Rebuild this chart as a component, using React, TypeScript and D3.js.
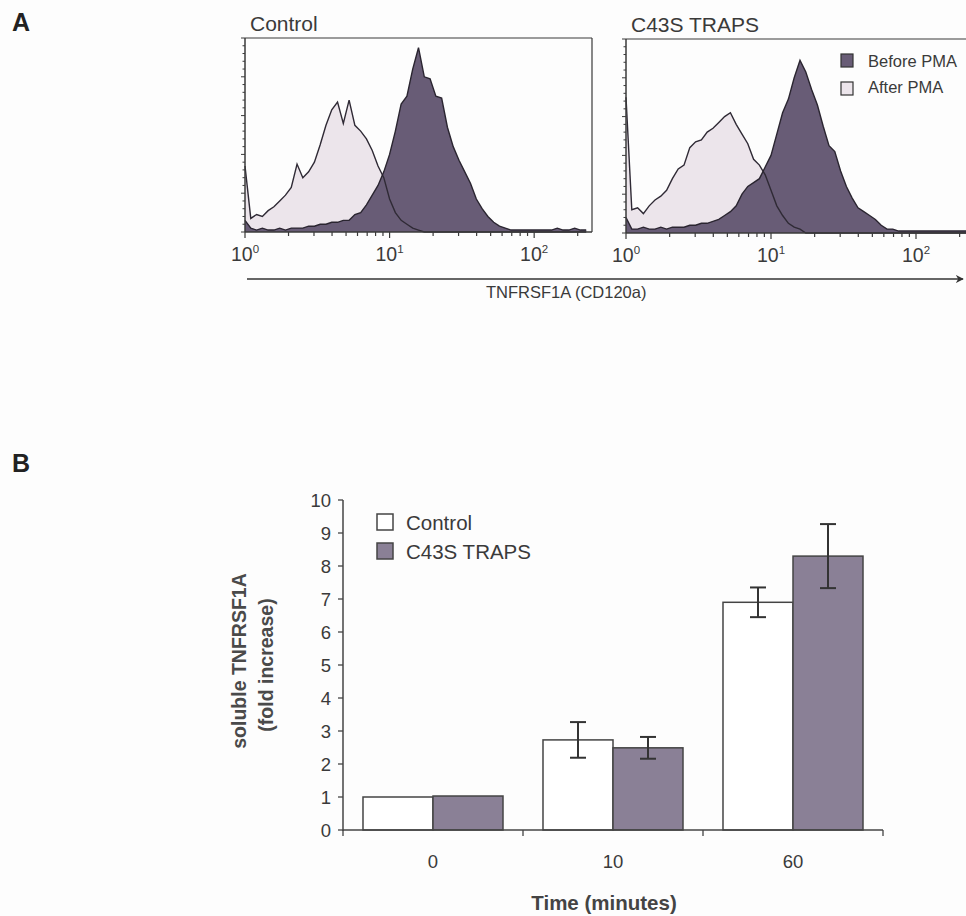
import React from 'react';
import * as d3 from 'd3';

// ---------- Panel A data (flow cytometry histograms, log-binned) ----------
const LOG_STEP = 0.04; // decades per bin
const LOG_MAX = 2.4;
const controlBefore = [6, 2, 1, 2, 1, 1, 2, 1, 2, 2, 2, 3, 3, 4, 4, 5, 5, 6, 6, 9, 10, 14, 19, 24, 31, 40, 52, 66, 70, 84, 95, 80, 79, 70, 69, 54, 44, 37, 31, 25, 17, 12, 8, 5, 3, 2, 1, 1, 1, 1, 1, 1, 1, 1, 2, 1, 1, 2, 1, 1];
const controlAfter = [34, 7, 9, 8, 11, 13, 16, 19, 23, 35, 28, 31, 36, 45, 55, 63, 67, 56, 68, 55, 52, 48, 42, 34, 28, 17, 10, 6, 4, 2, 1, 0, 0, 0, 0, 0, 0, 0, 0, 0, 0, 0, 0, 0, 0, 0, 0, 0, 0, 0, 0, 0, 0, 0, 0, 0, 0, 0, 0, 0];
const trapsBefore = [8, 2, 2, 3, 2, 2, 3, 2, 3, 3, 3, 4, 4, 5, 5, 6, 7, 9, 11, 14, 20, 24, 26, 28, 34, 40, 51, 62, 69, 80, 89, 83, 74, 66, 55, 45, 42, 32, 24, 18, 13, 11, 9, 7, 4, 2, 2, 1, 1, 1, 1, 1, 1, 1, 1, 1, 1, 1, 1, 1];
const trapsAfter = [70, 12, 13, 10, 14, 17, 19, 22, 28, 33, 35, 44, 47, 48, 52, 54, 57, 60, 62, 56, 51, 46, 38, 35, 30, 22, 14, 9, 5, 3, 2, 0, 0, 0, 0, 0, 0, 0, 0, 0, 0, 0, 0, 0, 0, 0, 0, 0, 0, 0, 0, 0, 0, 0, 0, 0, 0, 0, 0, 0];
const histTitles = ['Control', 'C43S TRAPS'];
const histLegend = ['Before PMA', 'After PMA'];
const decadeExponents = ['0', '1', '2'];
const histAxisTitle = 'TNFRSF1A (CD120a)';

// ---------- Panel B data (bar chart) ----------
const timeCategories = ['0', '10', '60'];
const barSeries = ['Control', 'C43S TRAPS'];
const controlMeans = [1.0, 2.73, 6.9];
const controlErrors = [0, 0.54, 0.45];
const trapsMeans = [1.03, 2.49, 8.3];
const trapsErrors = [0, 0.33, 0.97];
const yTicksB = [0, 1, 2, 3, 4, 5, 6, 7, 8, 9, 10];

const FONT = '"Liberation Sans", Arial, Helvetica, sans-serif';
const DARK = '#685c76';
const LIGHT = '#ece5eb';
const BAR = '#8a8096';
const INK = '#3a3a3a';

function Histogram({ x0, x1, top, bottom, before, after, title, showRight, legend }: any) {
  const x = d3.scaleLog().domain([1, Math.pow(10, LOG_MAX)]).range([x0, x1]);
  const y = d3.scaleLinear().domain([0, 100]).range([bottom, top]);
  const area = d3.area<number>()
    .x((_, i) => x(Math.pow(10, i * LOG_STEP)))
    .y0(y(0))
    .y1(d => y(d));
  const line = d3.line<number>()
    .x((_, i) => x(Math.pow(10, i * LOG_STEP)))
    .y(d => y(d));
  const minor = x.ticks();
  const yMinor = d3.range(0, 101, 4);
  return (
    <g>
      <text x={x0 + 5} y={top - 7} fontSize={21} fill={INK} fontFamily={FONT}>{title}</text>
      <path d={area(after) || ''} fill={LIGHT} />
      <path d={area(before) || ''} fill={DARK} />
      <path d={line(after) || ''} fill="none" stroke="#2f2a35" strokeWidth={1.4} />
      <path d={line(before) || ''} fill="none" stroke="#2a2530" strokeWidth={1.4} />
      {/* frame */}
      <line x1={x0} x2={x1} y1={top} y2={top} stroke={INK} strokeWidth={1.2} />
      <line x1={x0} x2={x0} y1={top} y2={bottom} stroke={INK} strokeWidth={1.5} />
      {showRight && <line x1={x1} x2={x1} y1={top} y2={bottom} stroke={INK} strokeWidth={1.2} />}
      <line x1={x0} x2={x1} y1={bottom} y2={bottom} stroke={INK} strokeWidth={1.5} />
      {yMinor.map(v => (
        <line key={'y' + v} x1={x0 - (v % 20 === 0 ? 4 : 2.5)} x2={x0} y1={y(v)} y2={y(v)} stroke={INK} strokeWidth={1} />
      ))}
      {minor.map((v, i) => {
        const major = Math.abs(Math.log10(v) - Math.round(Math.log10(v))) < 1e-9;
        return <line key={'x' + i} x1={x(v)} x2={x(v)} y1={bottom} y2={bottom + (major ? 6 : 4)} stroke={INK} strokeWidth={1.2} />;
      })}
      {decadeExponents.map(e => (
        <text key={'l' + e} x={x(Math.pow(10, +e))} y={bottom + 29} fontSize={19.5} fill={INK} fontFamily={FONT} textAnchor="middle">
          10<tspan fontSize={11.5} dy={-8}>{e}</tspan>
        </text>
      ))}
      {legend && (
        <g fontFamily={FONT} fontSize={16.5} fill={INK}>
          <rect x={841} y={54} width={12} height={13} fill={DARK} stroke="#333" strokeWidth={1.2} />
          <text x={868} y={67}>{histLegend[0]}</text>
          <rect x={841} y={82} width={12} height={13} fill={LIGHT} stroke="#333" strokeWidth={1.2} />
          <text x={868} y={93}>{histLegend[1]}</text>
        </g>
      )}
    </g>
  );
}

function BarChart() {
  const x0 = d3.scaleBand().domain(timeCategories).range([343, 883]).paddingInner(0).paddingOuter(0);
  const x1 = d3.scaleBand().domain(barSeries).range([0, x0.bandwidth()]).paddingInner(0).paddingOuter(0.2857);
  const y = d3.scaleLinear().domain([0, 10]).range([830, 500]);
  const series = [
    { name: barSeries[0], means: controlMeans, errs: controlErrors, fill: '#ffffff' },
    { name: barSeries[1], means: trapsMeans, errs: trapsErrors, fill: BAR },
  ];
  const catEdges = [...timeCategories.map(c => x0(c) as number), 883];
  return (
    <g fontFamily={FONT}>
      {series.map(s => timeCategories.map((c, i) => {
        const bx = (x0(c) as number) + (x1(s.name) as number);
        const bw = x1.bandwidth();
        return (
          <rect key={s.name + c} x={bx} y={y(s.means[i])} width={bw} height={y(0) - y(s.means[i])} fill={s.fill} stroke="#444" strokeWidth={1.5} />
        );
      }))}
      {series.map(s => timeCategories.map((c, i) => {
        if (!s.errs[i]) return null;
        const cx = (x0(c) as number) + (x1(s.name) as number) + x1.bandwidth() / 2;
        const hi = y(s.means[i] + s.errs[i]);
        const lo = y(s.means[i] - s.errs[i]);
        return (
          <g key={'e' + s.name + c} stroke="#333" strokeWidth={2}>
            <line x1={cx} x2={cx} y1={hi} y2={lo} />
            <line x1={cx - 8} x2={cx + 8} y1={hi} y2={hi} />
            <line x1={cx - 8} x2={cx + 8} y1={lo} y2={lo} />
          </g>
        );
      }))}
      {/* axes */}
      <line x1={343} x2={343} y1={500} y2={831} stroke="#444" strokeWidth={1.5} />
      <line x1={343} x2={883} y1={830} y2={830} stroke="#444" strokeWidth={1.5} />
      {yTicksB.map(t => (
        <g key={'t' + t}>
          <line x1={338} x2={343} y1={y(t)} y2={y(t)} stroke="#444" strokeWidth={1.3} />
          <text x={331} y={y(t)} dy="0.36em" textAnchor="end" fontSize={18.5} fill={INK}>{t}</text>
        </g>
      ))}
      {catEdges.map((ex, i) => (
        <line key={'c' + i} x1={ex} x2={ex} y1={830} y2={836} stroke="#444" strokeWidth={1.3} />
      ))}
      {timeCategories.map(c => (
        <text key={'xl' + c} x={(x0(c) as number) + x0.bandwidth() / 2} y={868} textAnchor="middle" fontSize={18.5} fill={INK}>{c}</text>
      ))}
      <text x={604} y={910} textAnchor="middle" fontSize={20.5} fontWeight="bold" fill="#444">Time (minutes)</text>
      <text transform="translate(246,661) rotate(-90)" textAnchor="middle" fontSize={19.5} fontWeight="bold" fill="#4a4a4a">soluble TNFRSF1A</text>
      <text transform="translate(273,665) rotate(-90)" textAnchor="middle" fontSize={19.5} fontWeight="bold" fill="#4a4a4a">(fold increase)</text>
      {/* legend */}
      <rect x={377} y={514} width={16} height={16} fill="#fff" stroke="#444" strokeWidth={1.5} />
      <text x={406} y={530} fontSize={20.5} fill={INK}>{barSeries[0]}</text>
      <rect x={377} y={543} width={16} height={16} fill={BAR} stroke="#444" strokeWidth={1.5} />
      <text x={406} y={559} fontSize={20.5} fill={INK}>{barSeries[1]}</text>
    </g>
  );
}

export default function App() {
  return (
    <svg width={966} height={916} style={{ position: 'absolute', left: 0, top: 0, background: '#fdfdfd' }}>
      <rect x={0} y={0} width={966} height={916} fill="#fdfdfd" />
      <text x={12} y={31} fontSize={25} fontWeight={900} fill="#222" fontFamily={FONT}>A</text>
      <text x={12} y={472} fontSize={25} fontWeight={900} fill="#222" fontFamily={FONT}>B</text>
      <Histogram x0={245} x1={592} top={38} bottom={232} before={controlBefore} after={controlAfter} title={histTitles[0]} showRight={true} legend={false} />
      <Histogram x0={626} x1={974} top={39} bottom={233} before={trapsBefore} after={trapsAfter} title={histTitles[1]} showRight={false} legend={true} />
      <defs>
        <marker id="arr" viewBox="0 0 10 10" refX={9} refY={5} markerWidth={8} markerHeight={8} orient="auto" markerUnits="userSpaceOnUse">
          <path d="M0,0 L10,5 L0,10 L3,5 Z" fill="#333" />
        </marker>
      </defs>
      <line x1={247} x2={963} y1={279} y2={279} stroke="#333" strokeWidth={1.5} markerEnd="url(#arr)" />
      <text x={486} y={298} fontSize={16.5} fill={INK} fontFamily={FONT}>{histAxisTitle}</text>
      <BarChart />
    </svg>
  );
}
